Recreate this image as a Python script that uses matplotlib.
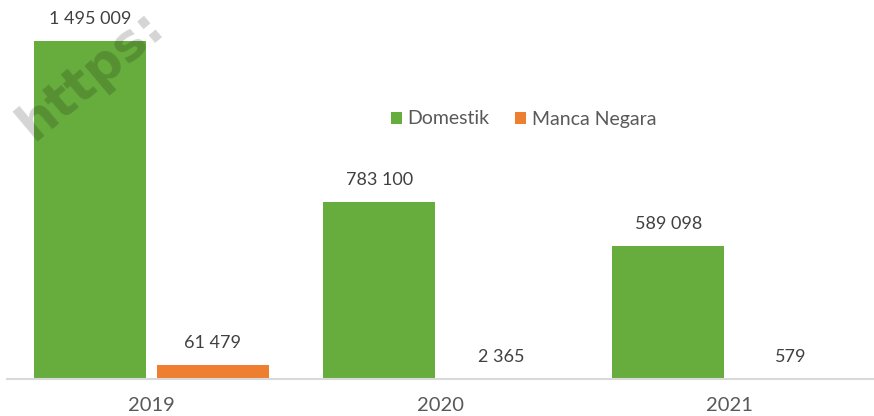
import matplotlib
matplotlib.use("Agg")
import matplotlib.pyplot as plt
import numpy as np

years = ["2019", "2020", "2021"]
domestik = [1495009, 783100, 589098]
manca_negara = [61479, 2365, 579]
series_names = ["Domestik", "Manca Negara"]

def fmt(v):
    return f"{v:,}".replace(",", " ")

plt.rcParams['font.family'] = ['Lato', 'DejaVu Sans']

fig = plt.figure(figsize=(8.74, 4.16), dpi=100)
W, H = 874, 416
ax = fig.add_axes([7 / W, (H - 379) / H, 867 / W, 379 / H])

x = np.arange(len(years))
bw = 0.3875
gap = 0.035
green = "#67AD3E"
orange = "#EE7F30"
b1 = ax.bar(x - (bw + gap) / 2, domestik, bw, color=green, label=series_names[0])
b2 = ax.bar(x + (bw + gap) / 2, manca_negara, bw, color=orange, label=series_names[1])

for bars, vals in ((b1, domestik), (b2, manca_negara)):
    for r, v in zip(bars, vals):
        ax.annotate(fmt(v), (r.get_x() + r.get_width() / 2, r.get_height()),
                    xytext=(0, 10), textcoords="offset points",
                    ha="center", va="bottom", fontsize=13, color="#404040")

ax.set_xlim(-0.5, 2.5)
ax.set_ylim(0, 1676000)
ax.set_xticks(x)
ax.set_xticklabels(years, fontsize=14.5, color="#595959")
ax.tick_params(axis="x", length=0, pad=13)
ax.set_yticks([])
for s in ("top", "right", "left"):
    ax.spines[s].set_visible(False)
ax.spines["bottom"].set_color("#D9D9D9")
ax.spines["bottom"].set_linewidth(1.5)

leg = ax.legend(loc="center", bbox_to_anchor=(523.5 / W, (H - 119) / H),
                bbox_transform=fig.transFigure, ncol=2, frameon=False,
                fontsize=14, handlelength=0.57, handleheight=0.57,
                handletextpad=0.3, columnspacing=1.3)
for t in leg.get_texts():
    t.set_color("#595959")

fig.text(34 / W, (H - 142) / H, "https:", rotation=40, fontsize=37,
         fontweight="bold", color="#000000", alpha=0.17,
         ha="left", va="baseline", rotation_mode="anchor", family="DejaVu Sans")

fig.savefig("out.png", dpi=100)
